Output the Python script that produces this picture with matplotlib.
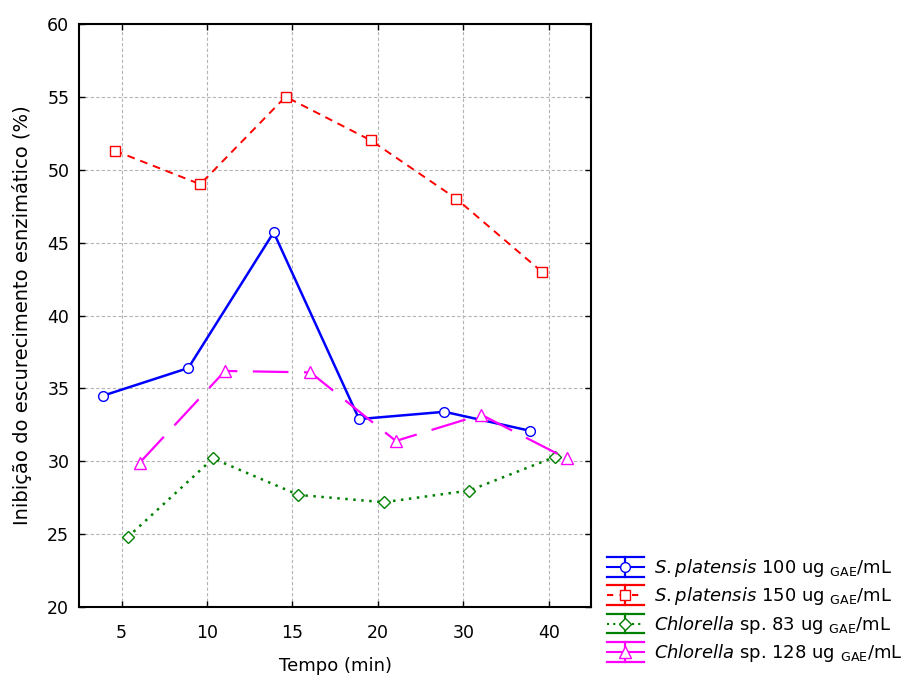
#!/usr/bin/env python3
import numpy as np
import matplotlib
matplotlib.use('Agg')
import matplotlib.pyplot as plt
from matplotlib.legend_handler import HandlerBase
from matplotlib.lines import Line2D

plt.rcParams['font.family'] = ['DejaVu Sans']
plt.rcParams['mathtext.fontset'] = 'custom'
plt.rcParams['mathtext.rm'] = 'DejaVu Sans'
plt.rcParams['mathtext.it'] = 'DejaVu Sans:italic'

# categories on the x axis (equally spaced)
tempo = ['5', '10', '15', '20', '30', '40']

# inhibition values (%)
sp100 = [34.5, 36.4, 45.7, 32.9, 33.4, 32.1]
sp150 = [51.3, 49.0, 55.0, 52.0, 48.0, 43.0]
ch83 = [24.8, 30.2, 27.7, 27.2, 28.0, 30.3]
ch128 = [29.9, 36.2, 36.1, 31.4, 33.2, 30.2]

labels = [
    r'$\it{S.platensis}$ 100 ug $_{\rm GAE}$/mL',
    r'$\it{S.platensis}$ 150 ug $_{\rm GAE}$/mL',
    r'$\it{Chlorella}$ sp. 83 ug $_{\rm GAE}$/mL',
    r'$\it{Chlorella}$ sp. 128 ug $_{\rm GAE}$/mL',
]


class ErrHandle(HandlerBase):
    """Legend key drawn like an error bar: caps, vertical bar, styled line, marker."""

    def __init__(self, ls='-', **kw):
        super().__init__(**kw)
        self.ls = ls

    def create_artists(self, legend, orig, xd, yd, width, height, fontsize, trans):
        c = orig.get_color()
        x0, x1 = -xd, width - xd
        y0, y1 = -yd, height - yd
        ym = (y0 + y1) / 2
        xm = (x0 + x1) / 2
        arts = [
            Line2D([x0, x1], [y1, y1], color=c, lw=1.6),
            Line2D([x0, x1], [y0, y0], color=c, lw=1.6),
            Line2D([xm, xm], [y0, y1], color=c, lw=1.6),
            Line2D([x0, x1], [ym, ym], color=c, lw=1.5, linestyle=self.ls),
            Line2D([xm], [ym], color=c, marker=orig.get_marker(),
                   markersize=orig.get_markersize(), markerfacecolor='white',
                   markeredgecolor=c, linestyle='none'),
        ]
        for a in arts:
            a.set_transform(trans)
        return arts


fig = plt.figure(figsize=(9.15, 6.8), dpi=100)
ax = fig.add_axes([0.0863, 0.107, 0.56, 0.858])

x = np.arange(len(tempo))

h1, = ax.plot(x - 0.22, sp100, color='#0000ff', lw=1.8, marker='o', ms=7,
              mfc='white', mec='#0000ff', mew=1.0, label=labels[0])
h2, = ax.plot(x - 0.08, sp150, color='#ff0000', lw=1.4, linestyle=(0, (4, 3)),
              marker='s', ms=7, mfc='white', mec='#ff0000', mew=1.0, label=labels[1])
h3, = ax.plot(x + 0.07, ch83, color='#008000', lw=1.8, linestyle=(0, (1, 2.2)),
              marker='D', ms=6.5, mfc='white', mec='#008000', mew=1.0, label=labels[2])
h4, = ax.plot(x + 0.21, ch128, color='#ff00ff', lw=1.6, linestyle=(0, (16, 7)),
              marker='^', ms=8, mfc='white', mec='#ff00ff', mew=1.0, label=labels[3])

ax.set_xlim(-0.5, len(tempo) - 0.5)
ax.set_ylim(20, 60)
ax.set_xticks(x)
ax.set_xticklabels(tempo)
ax.set_yticks(np.arange(20, 61, 5))
ax.tick_params(direction='in', length=4, width=1, labelsize=12.5,
               top=True, right=True)
ax.tick_params(axis='x', pad=12)
ax.tick_params(axis='y', pad=7)
ax.grid(True, color='#b4b4b4', linestyle=(0, (3, 2)), linewidth=0.8)
ax.set_axisbelow(True)
for s in ax.spines.values():
    s.set_linewidth(1.5)
    s.set_color('black')

ax.set_xlabel('Tempo (min)', fontsize=13, labelpad=11)
ax.set_ylabel('Inibição do escurecimento esnzimático (%)', fontsize=14, labelpad=11)

fig.legend(handles=[h1, h2, h3, h4], loc='upper left',
           bbox_to_anchor=(0.663, 0.181), frameon=False, fontsize=13,
           handlelength=2.05, handleheight=1.3, labelspacing=0.35,
           handletextpad=0.6, borderaxespad=0, borderpad=0,
           handler_map={h1: ErrHandle('-'), h2: ErrHandle((0, (3, 3))),
                        h3: ErrHandle((0, (1, 2))), h4: ErrHandle('-')})

fig.savefig('out.png', dpi=100)
